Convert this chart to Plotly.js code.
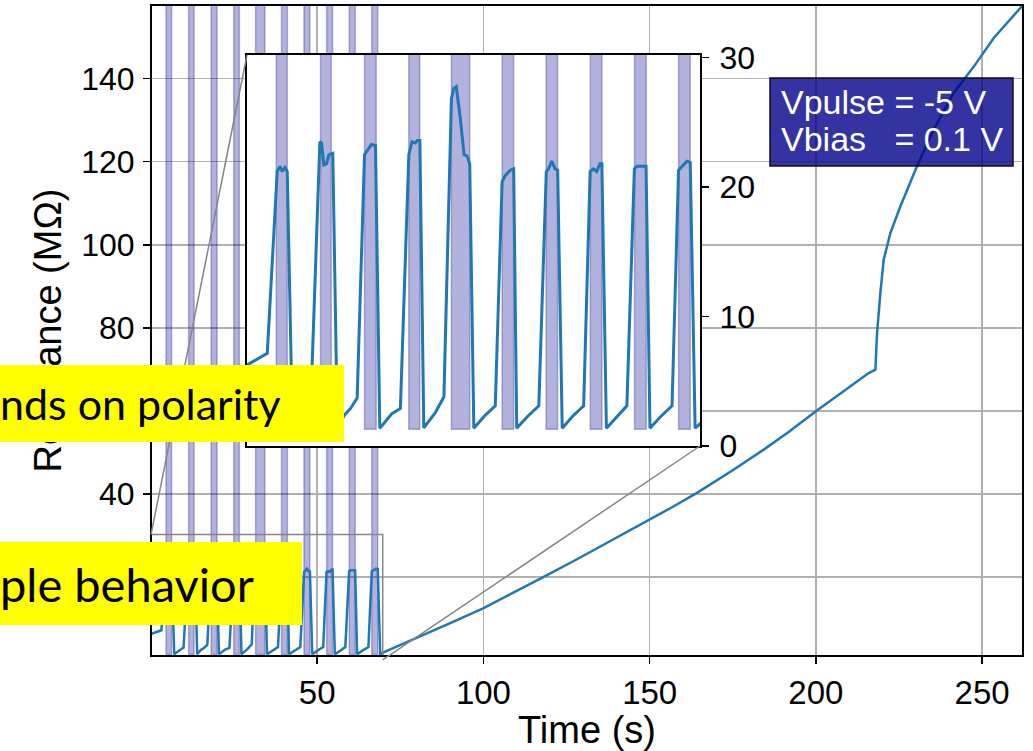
<!DOCTYPE html>
<html>
<head>
<meta charset="utf-8">
<script src="https://cdn.plot.ly/plotly-3.0.1.min.js"></script>
<style>html,body{margin:0;padding:0;background:#fff}#chart{width:1033px;height:751px}</style>
</head>
<body>
<div id="chart"></div>
<script>
// ---- data ----
// pulse train section (time in s, resistance in MOhm)
const pulseTime = [0, 3.12, 4.65, 5.06, 5.42, 5.83, 6.19, 7.0, 8.5, 9.8,
  11.21, 11.47, 11.83, 12.24, 12.6, 13.2, 13.9, 15.0, 15.93, 16.95,
  18.08, 18.74, 19.15, 19.77, 20.43, 22.3, 23.6,
  24.9, 25.4, 25.9, 26.2, 26.6, 27.2, 29.0, 30.3,
  31.45, 31.8, 32.2, 32.8, 33.4, 33.86, 34.27, 34.9, 36.5, 38.2,
  39.25, 39.75, 40.5, 41.03, 41.5, 43.2, 44.9,
  46.05, 46.4, 46.9, 47.4, 47.8, 48.5, 50.1, 51.8,
  52.8, 53.3, 53.8, 54.3, 54.6, 55.3, 57.0, 58.45,
  59.6, 60.0, 61.4, 62.0, 63.7, 65.4,
  66.4, 66.9, 67.7, 68.2, 68.95];
const pulseRes = [6.25, 7.16, 21.2, 21.6, 21.2, 21.5, 21.2, 1.4, 2.3, 3.0,
  23.5, 23.4, 21.7, 21.8, 22.5, 22.6, 1.4, 2.4, 2.9, 3.7,
  22.5, 23.0, 23.3, 23.2, 1.37, 2.5, 2.9,
  22.5, 23.5, 23.4, 23.6, 23.6, 1.4, 2.6, 3.8,
  26.8, 27.6, 27.75, 25.4, 22.5, 22.4, 21.8, 1.37, 2.3, 3.1,
  20.4, 20.9, 21.3, 21.4, 1.37, 2.3, 3.1,
  21.2, 21.4, 22.0, 21.4, 21.3, 1.37, 2.3, 3.1,
  21.2, 21.4, 21.2, 21.8, 21.8, 1.37, 2.3, 3.1,
  21.4, 21.6, 21.6, 1.37, 2.3, 3.1,
  21.3, 21.6, 22.0, 21.9, 1.37];
// after the pulse train
const relaxTime = [70.1, 75, 79.8, 90, 99.9, 108, 117.4, 128, 138.9, 149.9, 157, 164.1, 175, 184.2, 192, 200,
  208.4, 215.9, 217.9, 218.4, 219.4, 220.4, 222.4, 225.4, 230.4, 235.4, 241.4, 247.5, 253.5, 262];
const relaxRes = [1.9, 3.6, 5.2, 8.9, 12.45, 15.9, 19.7, 24.2, 28.9, 33.7, 36.9, 40.2, 45.7, 50.6, 55.0, 59.9,
  64.7, 69.1, 69.9, 78.7, 88.4, 96.4, 102.8, 109.2, 118.9, 127.7, 136.5, 142.9, 149.8, 157.5];
// voltage pulse windows (s)
const bandStart = [4.50, 11.31, 18.08, 24.89, 31.45, 39.25, 46.01, 52.82, 59.63, 66.40];
const bandEnd   = [6.20, 12.96, 19.88, 26.58, 34.27, 41.03, 47.79, 54.62, 61.43, 68.20];
const bandLow = 1.3, bandHigh = 160;
// ticks / texts (labels 20 and 60 are hidden under the yellow notes in the reference)
const xTicks = [50, 100, 150, 200, 250];
const yTicks = [20, 40, 60, 80, 100, 120, 140];
const yTickText = ['', '40', '', '80', '100', '120', '140'];
const insetTicks = [0, 10, 20, 30];
const infoLines = ['Vpulse = -5 V', 'Vbias\u00a0\u00a0\u00a0= 0.1 V'];
const noteTexts = ['nds on polarity', 'ple behavior'];

// ---- layout geometry ----
const W = 1033, H = 751, L = 152, R = 11, T = 6, B = 96;
const PW = W - L - R, PH = H - T - B;
const xMain = [0.3, 262], yMain = [1.2, 157.5];
const xIn = [0, 69.7], yIn = [0, 30.2];
const px2paperX = p => (p - L) / PW;
const px2paperY = p => (H - B - p) / PH;
const insetX = [px2paperX(247), px2paperX(700)];
const insetY = [px2paperY(446), px2paperY(55)];
const toPaper = (x, y) => [(x - xMain[0]) / (xMain[1] - xMain[0]), (y - yMain[0]) / (yMain[1] - yMain[0])];

const allT = pulseTime.concat(relaxTime);
const allR = pulseRes.concat(relaxRes);
const bandMid = bandStart.map((s, i) => (s + bandEnd[i]) / 2);
const bandW = bandStart.map((s, i) => bandEnd[i] - s);
const bandH = bandStart.map(() => bandHigh - bandLow);

const bandStyle = {color: 'rgba(0,0,139,0.3)', line: {color: 'rgba(0,0,139,0.28)', width: 1.5}};
const traces = [
  {type: 'bar', x: bandMid, y: bandH, base: bandLow, width: bandW, marker: bandStyle, xaxis: 'x', yaxis: 'y'},
  {type: 'scatter', mode: 'lines', x: allT, y: allR, line: {color: '#1f77b4', width: 2.5}, xaxis: 'x', yaxis: 'y'},
  {type: 'bar', x: bandMid, y: bandH, base: bandLow, width: bandW, marker: bandStyle, xaxis: 'x2', yaxis: 'y2'},
  {type: 'scatter', mode: 'lines', x: allT, y: allR, line: {color: '#1f77b4', width: 3}, xaxis: 'x2', yaxis: 'y2'}
];

const FAM = 'Liberation Sans, Arial, sans-serif';
const tickFont = {family: FAM, size: 32, color: '#000'};
const c1a = toPaper(xIn[0], yIn[1]);
const c2a = toPaper(xIn[1], yIn[0]);

const layout = {
  width: W, height: H,
  margin: {l: L, r: R, t: T, b: B},
  paper_bgcolor: '#fff', plot_bgcolor: '#fff',
  showlegend: false, barmode: 'overlay', hovermode: false,
  font: tickFont,
  xaxis: {domain: [0, 1], anchor: 'y', range: xMain, tickvals: xTicks, ticks: 'outside', ticklen: 7, tickwidth: 1.5,
    tickcolor: '#000', showline: true, mirror: true, linecolor: '#000', linewidth: 2, showgrid: true,
    gridcolor: '#b0b0b0', gridwidth: 1.5, zeroline: false, tickfont: {family: FAM, size: 33, color: '#000'}, ticklabelstandoff: 0,
    title: {text: 'Time (s)', font: {family: FAM, size: 38, color: '#000'}, standoff: 0}},
  yaxis: {domain: [0, 1], anchor: 'x', range: yMain, tickvals: yTicks, ticktext: yTickText, ticks: 'outside', ticklen: 7, tickwidth: 1.5,
    tickcolor: '#000', showline: true, mirror: true, linecolor: '#000', linewidth: 2, showgrid: true,
    gridcolor: '#b0b0b0', gridwidth: 1.5, zeroline: false, tickfont: tickFont, ticklabelstandoff: 2,
    title: {text: 'Resistance (MΩ)', font: {family: FAM, size: 38, color: '#000'}, standoff: 8}},
  xaxis2: {domain: insetX, anchor: 'y2', range: xIn, showticklabels: false, ticks: '', showline: true, mirror: true,
    linecolor: '#000', linewidth: 2, showgrid: false, zeroline: false},
  yaxis2: {domain: insetY, anchor: 'x2', side: 'right', range: yIn, tickvals: insetTicks, ticks: 'outside', ticklen: 7,
    tickwidth: 1.5, tickcolor: '#000', showline: true, mirror: true, linecolor: '#000', linewidth: 2, showgrid: false,
    zeroline: false, tickfont: tickFont, ticklabelstandoff: 4},
  shapes: [
    {type: 'rect', xref: 'x', yref: 'y', x0: xIn[0], x1: xIn[1], y0: yIn[0], y1: yIn[1], line: {color: '#858585', width: 1.5}, layer: 'above'},
    {type: 'line', xref: 'paper', yref: 'paper', x0: c1a[0], y0: c1a[1], x1: insetX[0], y1: insetY[1], line: {color: '#858585', width: 1.5}, layer: 'above'},
    {type: 'line', xref: 'paper', yref: 'paper', x0: c2a[0], y0: c2a[1], x1: insetX[1], y1: insetY[0], line: {color: '#858585', width: 1.5}, layer: 'above'},
    {type: 'rect', xref: 'paper', yref: 'paper', x0: px2paperX(770), x1: px2paperX(1013), y0: px2paperY(166), y1: px2paperY(78),
      fillcolor: 'rgba(0,0,139,0.8)', line: {color: '#111', width: 1.5}, layer: 'above'}
  ],
  annotations: [
    {xref: 'paper', yref: 'paper', x: px2paperX(779), y: px2paperY(102), xanchor: 'left', yanchor: 'middle', showarrow: false,
      text: infoLines[0], font: {family: FAM, size: 34, color: '#fff'}},
    {xref: 'paper', yref: 'paper', x: px2paperX(779), y: px2paperY(139), xanchor: 'left', yanchor: 'middle', showarrow: false,
      text: infoLines[1], font: {family: FAM, size: 34, color: '#fff'}},
    {xref: 'paper', yref: 'paper', x: px2paperX(0), y: px2paperY(403.5), xanchor: 'left', yanchor: 'middle', showarrow: false,
      width: 344, height: 77, borderpad: 0, borderwidth: 0, bgcolor: '#ffff00', align: 'left',
      text: noteTexts[0], font: {family: 'Lato, sans-serif', size: 43, color: '#000'}},
    {xref: 'paper', yref: 'paper', x: px2paperX(0), y: px2paperY(583.5), xanchor: 'left', yanchor: 'middle', showarrow: false,
      width: 302, height: 83, borderpad: 0, borderwidth: 0, bgcolor: '#ffff00', align: 'left',
      text: noteTexts[1], font: {family: 'Lato, sans-serif', size: 47, color: '#000'}}
  ]
};

Plotly.newPlot('chart', traces, layout, {staticPlot: true, displayModeBar: false});
</script>
</body>
</html>
